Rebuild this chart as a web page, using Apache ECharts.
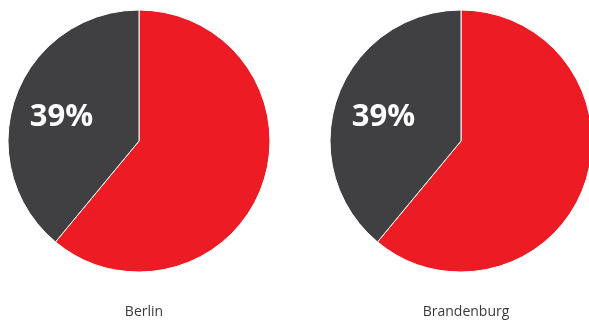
<!DOCTYPE html>
<html>
<head>
<meta charset="utf-8">
<script src="https://cdn.jsdelivr.net/npm/echarts@6/dist/echarts.min.js"></script>
<style>
  html, body { margin: 0; padding: 0; background: #fff; }
  #chart { width: 589px; height: 322px; }
</style>
</head>
<body>
<div id="chart"></div>
<script>
var regions = ['Berlin', 'Brandenburg']
var sliceNames = ['Rest', 'Anteil']
var berlinValues = [61, 39]
var brandenburgValues = [61, 39]

var colors = ['#ED1C24', '#404043']
var centers = [[139, 141], [461, 141]]

function buildData(values) {
  return values.map(function(v, i) {
    return {
      name: sliceNames[i],
      value: v,
      itemStyle: { color: colors[i] },
      label: { show: i === 1 }
    }
  })
}

var chart = echarts.init(document.getElementById('chart'))
var allValues = [berlinValues, brandenburgValues]

chart.setOption({
  animation: false,
  title: regions.map(function(r, i) {
    return {
      text: r,
      left: centers[i][0],
      top: 300,
      textAlign: 'center',
      textStyle: {
        fontFamily: 'Open Sans',
        fontSize: 14,
        fontWeight: 'normal',
        color: '#3a3a3a'
      }
    }
  }),
  series: allValues.map(function(vals, i) {
    return {
      type: 'pie',
      center: centers[i],
      radius: 131,
      startAngle: 90,
      clockwise: true,
      itemStyle: { borderColor: '#fff', borderWidth: 1 },
      label: {
        position: 'inside',
        formatter: '{c}%',
        color: '#fff',
        fontFamily: 'Open Sans',
        fontWeight: 'bold',
        fontSize: 31,
        offset: [-13, -1]
      },
      labelLine: { show: false },
      emphasis: { disabled: true },
      data: buildData(vals)
    }
  })
})
</script>
</body>
</html>
